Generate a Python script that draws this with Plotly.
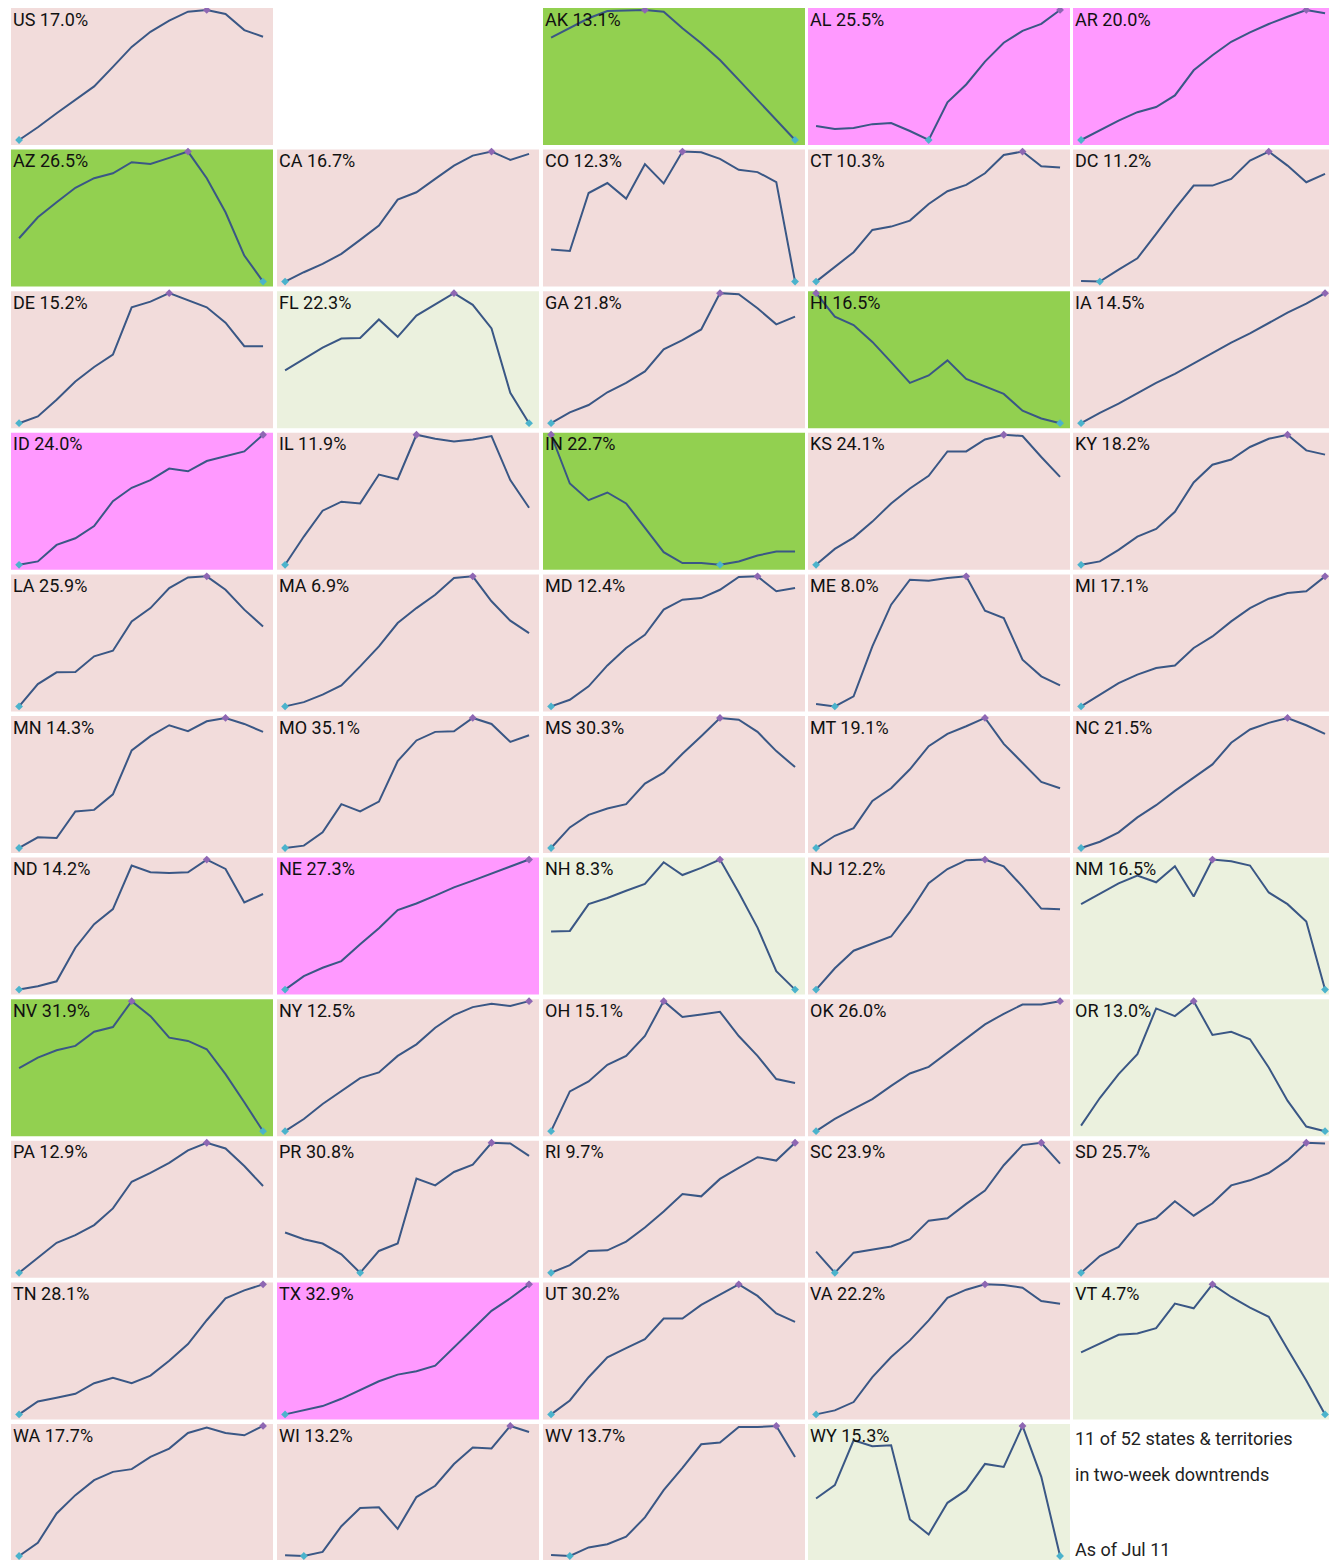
import plotly.graph_objects as go

# ---- data (relative level, 0 = series low, 100 = series high) ----
states = ["US", "AK", "AL", "AR",
          "AZ", "CA", "CO", "CT", "DC",
          "DE", "FL", "GA", "HI", "IA",
          "ID", "IL", "IN", "KS", "KY",
          "LA", "MA", "MD", "ME", "MI",
          "MN", "MO", "MS", "MT", "NC",
          "ND", "NE", "NH", "NJ", "NM",
          "NV", "NY", "OH", "OK", "OR",
          "PA", "PR", "RI", "SC", "SD",
          "TN", "TX", "UT", "VA", "VT",
          "WA", "WI", "WV", "WY"]

pct = ["17.0%", "13.1%", "25.5%", "20.0%",
       "26.5%", "16.7%", "12.3%", "10.3%", "11.2%",
       "15.2%", "22.3%", "21.8%", "16.5%", "14.5%",
       "24.0%", "11.9%", "22.7%", "24.1%", "18.2%",
       "25.9%", "6.9%", "12.4%", "8.0%", "17.1%",
       "14.3%", "35.1%", "30.3%", "19.1%", "21.5%",
       "14.2%", "27.3%", "8.3%", "12.2%", "16.5%",
       "31.9%", "12.5%", "15.1%", "26.0%", "13.0%",
       "12.9%", "30.8%", "9.7%", "23.9%", "25.7%",
       "28.1%", "32.9%", "30.2%", "22.2%", "4.7%",
       "17.7%", "13.2%", "13.7%", "15.3%"]

# trend class: n = normal, d = downtrend, dd = strong downtrend, u = strong uptrend
status = ["n", "dd", "u", "u",
          "dd", "n", "n", "n", "n",
          "n", "d", "n", "dd", "n",
          "u", "n", "dd", "n", "n",
          "n", "n", "n", "n", "n",
          "n", "n", "n", "n", "n",
          "n", "u", "d", "n", "d",
          "dd", "n", "n", "n", "d",
          "n", "n", "n", "n", "n",
          "n", "u", "n", "n", "d",
          "n", "n", "n", "d"]

# grid slot (row-major, 5 columns) for each state; slot 1 is empty, slot 54 holds the note
slots = [0, 2, 3, 4] + list(range(5, 54))

us = [0, 9.8, 20.6, 30.9, 41.2, 56.2, 71.6, 83.2, 91.8, 98.7, 100, 96.9, 84.5, 79.4]
ak = [78.7, 85.9, 93.6, 99.2, 99.5, 100, 98.7, 85.9, 74.4, 61.5, 46.2, 30.8, 15.4, 0]
al = [10.7, 8.4, 9.2, 12.2, 13.0, 6.9, 0, 29.0, 42.7, 60.3, 74.8, 83.9, 89.3, 100]
ar = [0, 7.2, 14.9, 21.4, 25.3, 34.3, 53.6, 65.2, 75.5, 82.7, 89.2, 94.8, 100, 97.4]
az = [33.3, 49.5, 61.0, 72.1, 79.5, 83.3, 91.8, 90.5, 95.1, 100, 79.5, 53.3, 20.0, 0]
ca = [0, 7.2, 13.6, 21.3, 32.1, 43.1, 63.1, 68.7, 79.0, 89.2, 96.9, 100, 93.6, 98.2]
co = [24.7, 23.5, 68.1, 75.8, 63.8, 90.3, 75.5, 100, 99.5, 94.4, 86.0, 84.2, 76.5, 0]
ct = [0, 11.0, 22.6, 39.7, 42.3, 46.9, 59.7, 69.5, 74.4, 83.3, 97.4, 100, 88.7, 87.7]
dc = [0.5, 0, 9.2, 17.9, 36.7, 55.9, 73.8, 73.8, 79.0, 93.1, 100, 89.2, 76.4, 82.8]
de = [0, 5.2, 18.1, 32.0, 43.2, 52.7, 89.1, 93.5, 100, 94.8, 89.1, 77.3, 59.2, 59.2]
fl = [40.6, 49.6, 58.1, 65.1, 65.6, 79.8, 66.4, 82.7, 91.5, 100, 91.0, 72.9, 23.3, 0]
ga = [0, 8.3, 14.0, 23.8, 31.0, 39.8, 56.8, 63.8, 72.1, 100, 99.2, 88.4, 76.0, 81.9]
hi = [100, 81.9, 75.5, 62.5, 47.0, 31.0, 36.7, 48.3, 34.1, 28.4, 22.5, 9.6, 3.6, 0]
ia = [0, 8, 15, 23, 31, 38, 46, 54, 62, 69, 77, 85, 92, 100]
id_ = [0, 2.6, 15.3, 20.4, 29.8, 48.9, 59.2, 65.1, 74.0, 71.9, 79.8, 83.4, 87.2, 100]
il = [0, 21.7, 41.6, 48.5, 47.2, 69.4, 65.8, 100, 96.9, 94.9, 96.4, 99.0, 65.1, 43.9]
in_ = [100, 62.5, 49.7, 55.6, 47.2, 28.1, 9.7, 1.3, 1.3, 0, 2.6, 7.1, 10.2, 10.2]
ks = [0, 12.2, 20.9, 33.2, 47.2, 58.7, 68.4, 87.2, 87.2, 96.4, 100, 99.0, 82.9, 67.6]
ky = [0, 2.6, 11.5, 21.7, 27.6, 40.8, 63.3, 77.0, 80.9, 90.6, 96.9, 100, 88.0, 84.7]
la = [0, 17.2, 26.2, 26.4, 38.5, 42.8, 65.4, 75.6, 91.0, 99.2, 100, 89.7, 74.4, 61.5]
ma = [0, 3.3, 9.0, 16.2, 30.8, 46.2, 64.1, 75.6, 85.9, 98.7, 100, 80.8, 65.9, 56.4]
md = [0, 5.1, 15.4, 31.5, 44.9, 55.1, 74.4, 82.1, 83.3, 89.7, 99.5, 100, 88.5, 91.0]
me = [1.8, 0, 7.7, 46.2, 78.2, 97.4, 96.7, 98.7, 100, 73.6, 67.9, 35.9, 23.1, 16.2]
mi = [0, 9.0, 17.9, 24.4, 29.5, 31.5, 44.9, 53.8, 65.4, 75.6, 82.8, 87.2, 88.5, 100]
mn = [0, 8.2, 7.7, 28.1, 29.3, 41.3, 75.0, 86.0, 94.4, 89.8, 97.4, 100, 95.4, 89.3]
mo = [0, 1.8, 12.0, 33.7, 28.1, 35.7, 66.8, 82.7, 89.3, 89.8, 100, 95.4, 81.6, 86.7]
ms = [0, 15.8, 25.5, 30.4, 33.7, 49.5, 57.9, 72.4, 86.0, 100, 98.7, 89.3, 74.5, 62.2]
mt = [0, 9.4, 15.3, 36.2, 45.9, 60.5, 78.3, 87.8, 93.6, 100, 80.1, 65.6, 50.8, 45.9]
nc = [0, 4.8, 12.0, 23.5, 32.9, 43.9, 54.1, 64.3, 80.9, 91.1, 96.2, 100, 94.4, 87.8]
nd = [0, 2.6, 6.4, 32.2, 50.3, 61.9, 95.4, 90.2, 89.7, 90.2, 100, 92.8, 67.0, 73.5]
ne = [0, 10.3, 16.8, 21.9, 34.8, 47.2, 61.1, 66.2, 72.2, 78.6, 83.8, 89.4, 94.6, 100]
nh = [44.6, 45.1, 65.7, 70.4, 76.0, 81.2, 97.9, 88.1, 93.6, 100, 74.7, 47.7, 14.2, 0]
nj = [0, 16.4, 29.9, 35.1, 40.8, 59.7, 81.8, 92.7, 99.5, 100, 94.8, 79.2, 62.3, 61.8]
nm = [65.7, 74.0, 81.7, 87.6, 82.5, 94.8, 71.6, 100, 98.7, 95.4, 74.7, 65.7, 52.3, 0]
nv = [48.5, 56.6, 62.2, 65.6, 76.5, 80.1, 100, 88.5, 71.9, 69.4, 63.0, 43.9, 22.2, 0]
ny = [0, 9.4, 20.9, 30.6, 40.8, 45.2, 57.9, 66.8, 79.6, 89.3, 95.4, 98.0, 96.2, 100]
oh = [0, 30.6, 38.3, 51.0, 57.9, 73.2, 100, 87.8, 89.8, 91.8, 73.2, 57.9, 40.1, 37.0]
ok = [0, 9.4, 17.1, 24.7, 34.9, 44.4, 49.5, 60.5, 71.4, 82.1, 90.3, 97.4, 97.4, 100]
or_ = [4.3, 25.5, 43.9, 59.2, 94.4, 88.5, 100, 74.0, 76.5, 70.7, 49.0, 23.5, 3.6, 0]
pa = [0, 11.5, 23.1, 29.0, 36.7, 49.5, 70.0, 76.9, 84.6, 94.1, 100, 95.6, 82.1, 66.7]
pr = [31.0, 25.8, 22.5, 14.2, 0, 16.8, 22.5, 72.4, 67.2, 77.5, 83.2, 100, 99.5, 89.9]
ri = [0, 5.9, 16.8, 17.3, 24.0, 34.8, 47.2, 60.6, 58.8, 72.2, 80.7, 88.9, 86.3, 100]
sc = [16.3, 0, 15.5, 18.1, 20.2, 25.8, 40.1, 41.9, 53.0, 63.3, 82.7, 98.2, 100, 84.0]
sd = [0, 12.9, 19.9, 37.5, 42.1, 55.0, 43.9, 53.5, 67.2, 71.1, 76.7, 86.6, 100, 99.5]
tn = [0, 9.9, 12.8, 15.8, 24.0, 28.1, 24.0, 29.8, 41.3, 54.1, 72.4, 89.3, 95.4, 100]
tx = [0, 3.1, 6.4, 12.0, 18.9, 25.5, 30.6, 33.2, 37.5, 51.5, 66.3, 79.6, 89.3, 100]
ut = [0, 10.7, 28.6, 43.9, 51.0, 57.9, 73.7, 73.7, 84.2, 91.8, 100, 91.1, 77.6, 71.2]
va = [0, 3.1, 9.5, 28.7, 44.1, 56.9, 72.3, 89.7, 95.9, 100, 99.5, 97.4, 87.2, 85.1]
vt = [47.7, 54.6, 61.2, 62.2, 66.3, 85.2, 81.6, 100, 90.3, 82.1, 75.0, 50.3, 26.0, 0]
wa = [0, 10.2, 32.7, 46.8, 58.3, 64.7, 66.8, 76.2, 82.6, 94.6, 98.7, 94.6, 92.8, 100]
wi = [0.5, 0, 3.1, 22.9, 36.9, 37.4, 20.9, 45.3, 54.0, 70.7, 83.5, 82.7, 100, 95.4]
wv = [0.8, 0, 6.6, 9.0, 14.8, 29.7, 50.6, 67.8, 85.9, 87.2, 99.2, 99.2, 100, 76.2]
wy = [44.2, 54.5, 89.0, 84.4, 85.2, 28.1, 16.6, 40.9, 50.6, 70.8, 68.5, 100, 60.9, 0]

series = [us, ak, al, ar, az, ca, co, ct, dc, de, fl, ga, hi, ia, id_, il, in_, ks, ky,
          la, ma, md, me, mi, mn, mo, ms, mt, nc, nd, ne, nh, nj, nm, nv, ny, oh, ok, or_,
          pa, pr, ri, sc, sd, tn, tx, ut, va, vt, wa, wi, wv, wy]

note_lines = ["11 of 52 states & territories", "in two-week downtrends", "As of Jul 11"]

# ---- styling ----
BG = {"n": "#F2DCDB", "d": "#EBF1DE", "dd": "#92D050", "u": "#FF99FF"}
LINE = "#3A5785"
MINC = "#4BB3CC"
MAXC = "#8E67B3"
FONT = "Roboto, DejaVu Sans Condensed, sans-serif"

W, H = 1329, 1555
COL_L = [3, 269, 535, 800, 1065]
PW, PH = 262, 137
ROW_PITCH = 141.6

fig = go.Figure()
layout = dict(width=W, height=H, margin=dict(l=0, r=0, t=0, b=0),
              paper_bgcolor="white", plot_bgcolor="rgba(0,0,0,0)",
              showlegend=False, shapes=[], annotations=[])

for i, (st, p, s, vals, slot) in enumerate(zip(states, pct, status, series, slots)):
    r, c = divmod(slot, 5)
    left = COL_L[c]
    top = r * ROW_PITCH
    n = i + 1
    xa = "xaxis" if n == 1 else f"xaxis{n}"
    ya = "yaxis" if n == 1 else f"yaxis{n}"
    xr = "x" if n == 1 else f"x{n}"
    yr = "y" if n == 1 else f"y{n}"
    x0, x1 = left / W, (left + PW) / W
    y1, y0 = 1 - top / H, 1 - (top + PH) / H
    layout[xa] = dict(domain=[x0, x1], range=[-0.43, 13.53], visible=False,
                      fixedrange=True, anchor=yr)
    layout[ya] = dict(domain=[max(y0, 0), y1], range=[-3.85, 101.5], visible=False,
                      fixedrange=True, anchor=xr)
    layout["shapes"].append(dict(type="rect", xref="paper", yref="paper",
                                 x0=x0, x1=x1, y0=y0, y1=y1, fillcolor=BG[s],
                                 line=dict(width=0), layer="below"))
    xs = list(range(len(vals)))
    fig.add_trace(go.Scatter(x=xs, y=vals, mode="lines", xaxis=xr, yaxis=yr,
                             line=dict(color=LINE, width=2), hoverinfo="skip"))
    imin = vals.index(min(vals))
    imax = vals.index(max(vals))
    fig.add_trace(go.Scatter(x=[imin, imax], y=[vals[imin], vals[imax]], mode="markers",
                             xaxis=xr, yaxis=yr, hoverinfo="skip", cliponaxis=False,
                             marker=dict(color=[MINC, MAXC], size=6, symbol="diamond")))
    layout["annotations"].append(dict(text=f"{st} {p}", xref="paper", yref="paper",
                                      x=(left + 1.2) / W, y=1 - (top - 0.5) / H,
                                      xanchor="left", yanchor="top", showarrow=False,
                                      borderpad=0,
                                      font=dict(family=FONT, size=18, color="#111111")))

# note cell (last slot)
note_y = [1430, 1466, 1541]
for txt, yy in zip(note_lines, note_y):
    layout["annotations"].append(dict(text=txt, xref="paper", yref="paper",
                                      x=1066 / W, y=1 - yy / H, xanchor="left",
                                      yanchor="middle", showarrow=False, borderpad=0,
                                      font=dict(family=FONT, size=18, color="#222222")))

fig.update_layout(**layout)
fig.write_html("out.html")
